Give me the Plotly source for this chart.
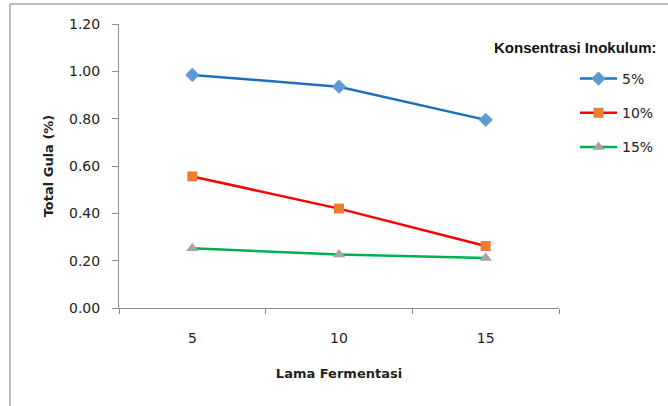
import plotly.graph_objects as go

days = [5, 10, 15]
s5 = [0.985, 0.935, 0.795]
s10 = [0.556, 0.42, 0.262]
s15 = [0.252, 0.226, 0.211]
series_names = ["5%", "10%", "15%"]
yticks = [0.0, 0.2, 0.4, 0.6, 0.8, 1.0, 1.2]
ytick_text = ["0.00", "0.20", "0.40", "0.60", "0.80", "1.00", "1.20"]

FONT = "DejaVu Sans"
W, H = 668, 406
L, R, T, B = 119, 109, 24, 98
pw, ph = W - L - R, H - T - B

def px_x(p):
    return (p - L) / pw

def px_y(p):
    return (H - B - p) / ph

fig = go.Figure()
styles = [
    (s5, "#1F6FBF", "#5B9BD5", "diamond", 11),
    (s10, "#FF0000", "#ED7D31", "square", 10),
    (s15, "#00B050", "#A5A5A5", "triangle-up", 11),
]
for i, (vals, lc, mc, sym, ms) in enumerate(styles):
    fig.add_trace(go.Scatter(
        x=days, y=vals, mode="lines+markers", name=series_names[i],
        legendgroup=series_names[i],
        line=dict(color=lc, width=2.5),
        marker=dict(symbol=sym, size=ms, color=mc, line=dict(width=0)),
    ))

fig.update_layout(
    width=W, height=H,
    margin=dict(l=L, r=R, t=T, b=B, autoexpand=False),
    paper_bgcolor="white", plot_bgcolor="white",
    font=dict(family=FONT, size=14, color="#222"),
    showlegend=True,
    legend=dict(
        x=px_x(575), y=px_y(63), xanchor="left", yanchor="top",
        font=dict(family=FONT, size=14, color="#222"),
        tracegroupgap=13, itemwidth=37, bgcolor="rgba(0,0,0,0)",
    ),
    xaxis=dict(
        range=[2.5, 17.5], tickvals=days, ticktext=[str(d) for d in days],
        ticks="", showline=True, linecolor="#8C8C8C", linewidth=1,
        showgrid=False, zeroline=False, ticklabelstandoff=17,
        tickfont=dict(size=14, color="#222"),
        minor=dict(tick0=2.5, dtick=5, ticks="outside", ticklen=5,
                   tickcolor="#8C8C8C", tickwidth=1, showgrid=False),
        title=dict(text="<b>Lama Fermentasi</b>", standoff=24,
                   font=dict(size=13, color="#222")),
    ),
    yaxis=dict(
        range=[0, 1.2], tickvals=yticks, ticktext=ytick_text,
        ticks="outside", ticklen=6, tickcolor="#8C8C8C",
        showline=True, linecolor="#8C8C8C", linewidth=1,
        showgrid=False, zeroline=False, ticklabelstandoff=9,
        tickfont=dict(size=14, color="#222"),
        title=dict(text="<b>Total Gula (%)</b>", standoff=12,
                   font=dict(size=13, color="#222")),
    ),
    annotations=[dict(
        text="<b>Konsentrasi Inokulum:</b>", xref="paper", yref="paper",
        x=px_x(492), y=px_y(47), xanchor="left", yanchor="middle",
        showarrow=False,
        font=dict(family="Liberation Sans Narrow, Liberation Sans", size=15, color="#111"),
    )],
    shapes=[
        dict(type="line", xref="paper", yref="paper",
             x0=px_x(10), x1=px_x(10), y0=px_y(4), y1=px_y(410),
             line=dict(color="#A6A6A6", width=1.5)),
        dict(type="line", xref="paper", yref="paper",
             x0=px_x(10), x1=px_x(670), y0=px_y(4), y1=px_y(4),
             line=dict(color="#A6A6A6", width=1.5)),
    ],
)

fig.write_html("out.html")
